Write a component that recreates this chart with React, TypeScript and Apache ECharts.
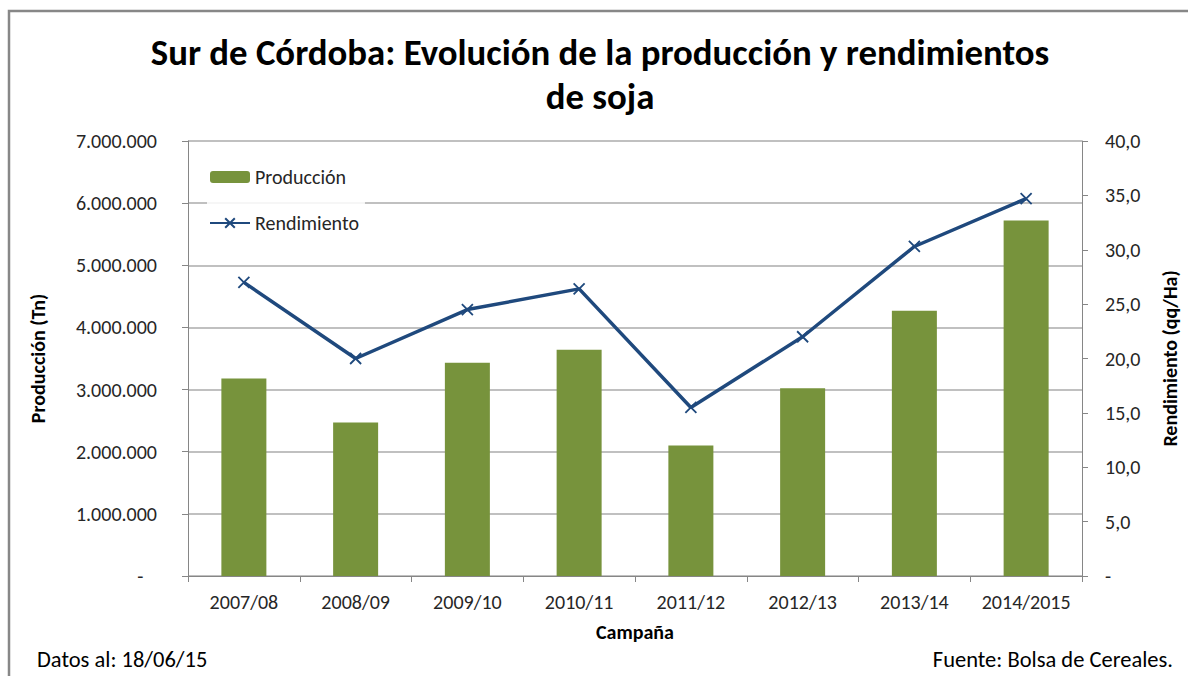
import React, { useEffect, useRef } from "react";
import * as echarts from "echarts";

const campaigns = ["2007/08", "2008/09", "2009/10", "2010/11", "2011/12", "2012/13", "2013/14", "2014/2015"];
const produccion = [3180000, 2470000, 3430000, 3640000, 2100000, 3020000, 4270000, 5720000];
const rendimiento = [27.0, 20.0, 24.5, 26.4, 15.5, 22.0, 30.3, 34.7];

const FONT = "Carlito, Lato, 'Open Sans', sans-serif";

function fmtThousands(v: number): string {
  if (v === 0) return "-   ";
  return String(Math.round(v)).replace(/\B(?=(\d{3})+(?!\d))/g, ".");
}
function fmtDecimal(v: number): string {
  if (v === 0) return "-";
  return v.toFixed(1).replace(".", ",");
}

export default function App() {
  const ref = useRef<HTMLDivElement>(null);
  useEffect(() => {
    if (!ref.current) return;
    const chart = echarts.init(ref.current, undefined, { renderer: "svg" });
    const axisGrey = "#868686";
    chart.setOption({
      animation: false,
      backgroundColor: "#ffffff",
      textStyle: { fontFamily: FONT },
      legend: {
        orient: "vertical",
        left: 207,
        top: 165,
        itemGap: 26,
        itemWidth: 40,
        itemHeight: 12,
        backgroundColor: "rgba(255,255,255,0.85)",
        padding: [2, 6, 2, 2],
        textStyle: { fontFamily: FONT, fontSize: 20, color: "#262626" },
        data: ["Producción", "Rendimiento"],
      },
      grid: { left: 188, right: 103, top: 141, bottom: 100 },
      xAxis: {
        type: "category",
        data: campaigns,
        name: "Campaña",
        nameLocation: "middle",
        nameGap: 46,
        nameTextStyle: { fontFamily: FONT, fontWeight: "bold", fontSize: 20, color: "#000" },
        axisLine: { lineStyle: { color: axisGrey, width: 1 } },
        axisTick: { show: true, length: 6, lineStyle: { color: axisGrey } },
        axisLabel: { interval: 0, margin: 16, fontSize: 20, color: "#262626", fontFamily: FONT },
      },
      yAxis: [
        {
          type: "value",
          min: 0,
          max: 7000000,
          interval: 1000000,
          name: "Producción (Tn)",
          nameLocation: "middle",
          nameRotate: 90,
          nameGap: 140,
          nameTextStyle: { fontFamily: FONT, fontWeight: "bold", fontSize: 20, color: "#000" },
          axisLine: { show: true, lineStyle: { color: axisGrey } },
          axisTick: { show: true, length: 6, lineStyle: { color: axisGrey } },
          axisLabel: { formatter: fmtThousands, margin: 31, fontSize: 20, color: "#262626", fontFamily: FONT },
          splitLine: { show: true, lineStyle: { color: "#ababab", width: 1.5 } },
        },
        {
          type: "value",
          min: 0,
          max: 40,
          interval: 5,
          name: "Rendimiento (qq/Ha)",
          nameLocation: "middle",
          nameRotate: 90,
          nameGap: 78,
          nameTextStyle: { fontFamily: FONT, fontWeight: "bold", fontSize: 20, color: "#000" },
          axisLine: { show: true, lineStyle: { color: axisGrey } },
          axisTick: { show: true, length: 6, lineStyle: { color: axisGrey } },
          axisLabel: { formatter: fmtDecimal, margin: 23, fontSize: 20, color: "#262626", fontFamily: FONT },
          splitLine: { show: false },
        },
      ],
      series: [
        {
          name: "Producción",
          type: "bar",
          yAxisIndex: 0,
          data: produccion,
          barWidth: 45,
          itemStyle: { color: "#77933C" },
        },
        {
          name: "Rendimiento",
          type: "line",
          yAxisIndex: 1,
          data: rendimiento,
          symbol: "path://M0,0L10,10M10,0L0,10",
          symbolSize: 11,
          itemStyle: { color: "#1F497D", borderColor: "#1F497D", borderWidth: 1.8 },
          lineStyle: { color: "#1F497D", width: 3.5 },
        },
      ],
      graphic: [
        {
          type: "polyline",
          shape: { points: [[9, 700], [9, 11], [1400, 11]] },
          style: { fill: "none", stroke: "#878787", lineWidth: 2.5 },
          silent: true,
        },
        {
          type: "text",
          x: 600,
          y: 52,
          style: {
            text: "Sur de Córdoba: Evolución de la producción y rendimientos",
            fontSize: 36.8,
            fontWeight: "bold",
            fontFamily: FONT,
            fill: "#000",
            align: "center",
            verticalAlign: "middle",
          },
        },
        {
          type: "text",
          x: 600,
          y: 96,
          style: {
            text: "de soja",
            fontSize: 36.8,
            fontWeight: "bold",
            fontFamily: FONT,
            fill: "#000",
            align: "center",
            verticalAlign: "middle",
          },
        },
        {
          type: "text",
          left: 37,
          top: 648,
          style: { text: "Datos al: 18/06/15", fontSize: 22.5, fontFamily: FONT, fill: "#000" },
        },
        {
          type: "text",
          right: 15,
          top: 648,
          style: { text: "Fuente: Bolsa de Cereales.", fontSize: 22.5, fontFamily: FONT, fill: "#000" },
        },
      ],
    });
    return () => chart.dispose();
  }, []);
  return <div ref={ref} style={{ position: "fixed", left: 0, top: 0, width: 1188, height: 676 }} />;
}
